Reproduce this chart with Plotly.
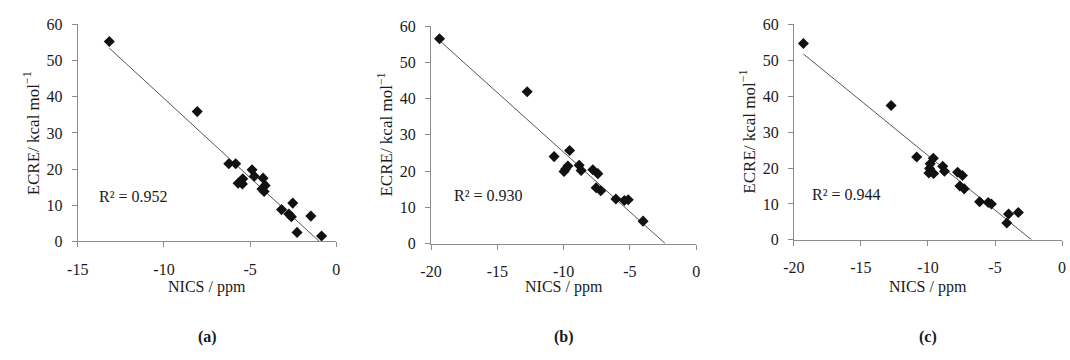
import plotly.graph_objects as go
import numpy as np

# ---- data ----
nics_a = [-13.17, -8.07, -6.24, -5.84, -4.89, -4.76, -4.25, -5.43, -5.55, -5.70, -5.45,
          -4.13, -4.32, -4.19, -2.53, -3.18, -2.76, -2.61, -1.48, -2.28, -0.86]
ecre_a = [55.3, 35.9, 21.5, 21.5, 19.8, 18.0, 17.5, 17.3, 16.6, 16.1, 15.9,
          15.5, 14.5, 13.8, 10.6, 8.8, 7.6, 6.8, 7.0, 2.5, 1.5]

nics_b = [-19.36, -12.75, -10.72, -9.55, -9.97, -9.85, -9.68, -8.83, -8.68, -7.80, -7.42,
          -7.55, -7.20, -6.06, -5.42, -5.13, -4.01]
ecre_b = [56.5, 41.9, 24.0, 25.7, 19.9, 20.6, 21.4, 21.6, 20.2, 20.4, 19.3,
          15.4, 14.6, 12.3, 11.9, 12.1, 6.2]

nics_c = [-19.29, -12.75, -10.84, -9.60, -9.83, -9.88, -9.93, -9.58, -8.90, -8.77, -7.79,
          -7.43, -7.62, -7.30, -6.15, -5.51, -5.27, -3.99, -3.26, -4.12]
ecre_c = [54.7, 37.4, 23.1, 22.7, 21.2, 19.9, 18.6, 18.5, 20.5, 19.1, 18.8,
          17.9, 15.0, 14.2, 10.6, 10.4, 10.0, 7.2, 7.6, 4.7]

# trend lines (slope, intercept) and R^2 values
fit_a = (-4.39, -4.35)
fit_b = (-3.29, -7.69)
fit_c = (-3.045, -6.94)
r2_labels = ["R² = 0.952", "R² = 0.930", "R² = 0.944"]
panel_labels = ["(a)", "(b)", "(c)"]
x_ticks_a = [-15, -10, -5, 0]
x_ticks_bc = [-20, -15, -10, -5, 0]
y_ticks = [0, 10, 20, 30, 40, 50, 60]
r2_pos = [(-13.9, 12.4), (-18.4, 13.2), (-18.8, 12.6)]

W, H = 1070, 360
FONT = "Liberation Serif, Times New Roman, serif"
AX = "#8c8c8c"
TXT = "#1a1a1a"

panels = [
    dict(x=nics_a, y=ecre_a, fit=fit_a, xr=[-15, 0], xt=x_ticks_a, px=(67.7, 330), py=(245, 17.3)),
    dict(x=nics_b, y=ecre_b, fit=fit_b, xr=[-20, 0], xt=x_ticks_bc, px=(426, 695), py=(247.3, 19)),
    dict(x=nics_c, y=ecre_c, fit=fit_c, xr=[-20, 0], xt=x_ticks_bc, px=(794, 1066), py=(243.3, 17.3)),
]

fig = go.Figure()
annotations = []
for i, p in enumerate(panels):
    n = "" if i == 0 else str(i + 1)
    xa, ya = "x" + n, "y" + n
    m, b = p["fit"]
    xl = np.array([min(p["x"]), -b / m])
    fig.add_trace(go.Scatter(x=xl, y=m * xl + b, mode="lines",
                             line=dict(color="#555555", width=1), xaxis=xa, yaxis=ya,
                             showlegend=False, hoverinfo="skip"))
    fig.add_trace(go.Scatter(x=p["x"], y=p["y"], mode="markers", cliponaxis=False,
                             marker=dict(symbol="diamond", size=8.5, color="#111111"),
                             xaxis=xa, yaxis=ya, showlegend=False))
    x0, x1 = p["px"][0] / W, p["px"][1] / W
    y0, y1 = 1 - p["py"][0] / H, 1 - p["py"][1] / H
    axcommon = dict(showline=True, linecolor=AX, linewidth=1, ticks="outside", ticklen=5,
                    tickcolor=AX, showgrid=False, zeroline=False,
                    tickfont=dict(family=FONT, size=16, color=TXT))
    fig.update_layout(**{
        "xaxis" + n: dict(domain=[x0, x1], range=p["xr"], tickvals=p["xt"],
                          ticktext=[str(v) for v in p["xt"]], anchor=ya,
                          ticklabelstandoff=8, **axcommon),
        "yaxis" + n: dict(domain=[y0, y1], range=[0, 60], tickvals=y_ticks, anchor=xa,
                          ticklabelstandoff=6, **axcommon),
    })
    cx = (p["px"][0] + p["px"][1]) / 2 / W
    annotations.append(dict(x=cx, y=1 - 293 / H, xref="paper", yref="paper", text="NICS / ppm",
                            xanchor="center", yanchor="middle", showarrow=False,
                            font=dict(family=FONT, size=16, color=TXT)))
    annotations.append(dict(x=cx, y=1 - 345 / H, xref="paper", yref="paper",
                            text="<b>" + panel_labels[i] + "</b>",
                            xanchor="center", yanchor="middle", showarrow=False,
                            font=dict(family=FONT, size=16, color=TXT)))
    annotations.append(dict(x=(p["px"][0] - 47) / W, y=1 - ((p["py"][0] + p["py"][1]) / 2) / H,
                            xref="paper", yref="paper", text="ECRE/ kcal mol<sup>−1</sup>",
                            xanchor="center", yanchor="middle",
                            textangle=-90, showarrow=False,
                            font=dict(family=FONT, size=17, color=TXT)))
    annotations.append(dict(x=r2_pos[i][0], y=r2_pos[i][1], xref=xa, yref=ya, text=r2_labels[i],
                            xanchor="left", yanchor="middle", showarrow=False,
                            font=dict(family=FONT, size=16, color=TXT)))

fig.update_layout(width=W, height=H, margin=dict(l=0, r=0, t=0, b=0),
                  paper_bgcolor="white", plot_bgcolor="white", annotations=annotations)
fig.write_html("out.html", config={"displayModeBar": False},
               post_script="document.body.style.margin='0';document.body.style.padding='0';")
